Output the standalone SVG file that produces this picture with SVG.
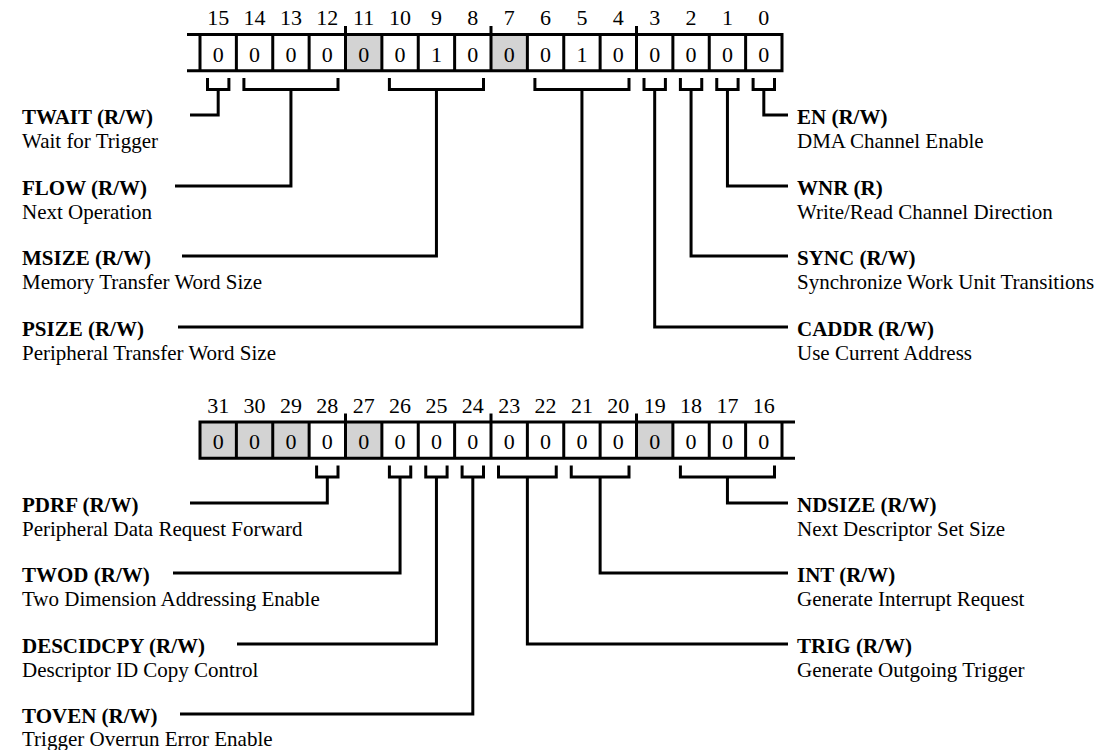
<svg xmlns="http://www.w3.org/2000/svg" width="1110" height="750" viewBox="0 0 1110 750">
<style>
text{font-family:"Liberation Serif","Times New Roman",serif;font-size:21px;fill:#000}
.b{font-weight:bold}
.n text{text-anchor:middle;font-size:22px}
.ln{fill:none;stroke:#000;stroke-width:3;stroke-linejoin:miter;stroke-linecap:butt}
.g{fill:#d3d3d3}
</style>
<rect width="1110" height="750" fill="#fff"/>

<g id="register-low">
<rect class="g" x="345.5" y="34.5" width="36.375" height="36.2"/>
<rect class="g" x="491" y="34.5" width="36.375" height="36.2"/>
<path class="ln" d="M187 34.5H783.5M187 70.7H783.5M200 33V72.2M236.375 33V72.2M272.75 33V72.2M309.125 33V72.2M345.5 26V72.2M381.875 33V72.2M418.25 33V72.2M454.625 33V72.2M491 26V72.2M527.375 33V72.2M563.75 33V72.2M600.125 33V72.2M636.5 26V72.2M672.875 33V72.2M709.25 33V72.2M745.625 33V72.2M782 33V72.2"/>
<g class="n">
<text x="218.19" y="25">15</text><text x="254.56" y="25">14</text><text x="290.94" y="25">13</text><text x="327.31" y="25">12</text>
<text x="363.69" y="25">11</text><text x="400.06" y="25">10</text><text x="436.44" y="25">9</text><text x="472.81" y="25">8</text>
<text x="509.19" y="25">7</text><text x="545.56" y="25">6</text><text x="581.94" y="25">5</text><text x="618.31" y="25">4</text>
<text x="654.69" y="25">3</text><text x="691.06" y="25">2</text><text x="727.44" y="25">1</text><text x="763.81" y="25">0</text>
<text x="218.19" y="61.5">0</text><text x="254.56" y="61.5">0</text><text x="290.94" y="61.5">0</text><text x="327.31" y="61.5">0</text>
<text x="363.69" y="61.5">0</text><text x="400.06" y="61.5">0</text><text x="436.44" y="61.5">1</text><text x="472.81" y="61.5">0</text>
<text x="509.19" y="61.5">0</text><text x="545.56" y="61.5">0</text><text x="581.94" y="61.5">1</text><text x="618.31" y="61.5">0</text>
<text x="654.69" y="61.5">0</text><text x="691.06" y="61.5">0</text><text x="727.44" y="61.5">0</text><text x="763.81" y="61.5">0</text>
</g>
</g>

<g id="register-high">
<rect class="g" x="200" y="422" width="109.125" height="36.2"/>
<rect class="g" x="345.5" y="422" width="36.375" height="36.2"/>
<rect class="g" x="636.5" y="422" width="36.375" height="36.2"/>
<path class="ln" d="M198.5 422H795M198.5 458.2H795M200 420.5V459.7M236.375 420.5V459.7M272.75 420.5V459.7M309.125 420.5V459.7M345.5 413.5V459.7M381.875 420.5V459.7M418.25 420.5V459.7M454.625 420.5V459.7M491 413.5V459.7M527.375 420.5V459.7M563.75 420.5V459.7M600.125 420.5V459.7M636.5 413.5V459.7M672.875 420.5V459.7M709.25 420.5V459.7M745.625 420.5V459.7M782 420.5V459.7"/>
<g class="n">
<text x="218.19" y="412.5">31</text><text x="254.56" y="412.5">30</text><text x="290.94" y="412.5">29</text><text x="327.31" y="412.5">28</text>
<text x="363.69" y="412.5">27</text><text x="400.06" y="412.5">26</text><text x="436.44" y="412.5">25</text><text x="472.81" y="412.5">24</text>
<text x="509.19" y="412.5">23</text><text x="545.56" y="412.5">22</text><text x="581.94" y="412.5">21</text><text x="618.31" y="412.5">20</text>
<text x="654.69" y="412.5">19</text><text x="691.06" y="412.5">18</text><text x="727.44" y="412.5">17</text><text x="763.81" y="412.5">16</text>
<text x="218.19" y="449">0</text><text x="254.56" y="449">0</text><text x="290.94" y="449">0</text><text x="327.31" y="449">0</text>
<text x="363.69" y="449">0</text><text x="400.06" y="449">0</text><text x="436.44" y="449">0</text><text x="472.81" y="449">0</text>
<text x="509.19" y="449">0</text><text x="545.56" y="449">0</text><text x="581.94" y="449">0</text><text x="618.31" y="449">0</text>
<text x="654.69" y="449">0</text><text x="691.06" y="449">0</text><text x="727.44" y="449">0</text><text x="763.81" y="449">0</text>
</g>
</g>

<g id="connectors" class="ln">
<path d="M207.5 78V89.5H228.9V78M218.19 89.5V115H190"/>
<path d="M243.9 78V89.5H338V78M290.94 89.5V186H175"/>
<path d="M389.4 78V89.5H483.5V78M436.44 89.5V256H182"/>
<path d="M534.9 78V89.5H629V78M581.94 89.5V327H178"/>
<path d="M644 78V89.5H665.4V78M654.69 89.5V327H788"/>
<path d="M680.4 78V89.5H701.75V78M691.06 89.5V256H788"/>
<path d="M716.75 78V89.5H738.1V78M727.44 89.5V186H788"/>
<path d="M753.1 78V89.5H774.5V78M763.81 89.5V115H788"/>
<path d="M316.6 465.5V477H338V465.5M327.31 477V503H190"/>
<path d="M389.4 465.5V477H410.75V465.5M400.06 477V573H173"/>
<path d="M425.75 465.5V477H447.1V465.5M436.44 477V644H237"/>
<path d="M462.1 465.5V477H483.5V465.5M472.81 477V714H180"/>
<path d="M498.5 465.5V477H556.25V465.5M527.375 477V644H788"/>
<path d="M571.25 465.5V477H629V465.5M600.125 477V573H788"/>
<path d="M680.4 465.5V477H774.5V465.5M727.44 477V503H788"/>
</g>

<g id="field-twait"><text class="b" x="22" y="124">TWAIT (R/W)</text><text x="22" y="148">Wait for Trigger</text></g>
<g id="field-flow"><text class="b" x="22" y="195">FLOW (R/W)</text><text x="22" y="219">Next Operation</text></g>
<g id="field-msize"><text class="b" x="22" y="265">MSIZE (R/W)</text><text x="22" y="289">Memory Transfer Word Size</text></g>
<g id="field-psize"><text class="b" x="22" y="336">PSIZE (R/W)</text><text x="22" y="360">Peripheral Transfer Word Size</text></g>
<g id="field-en"><text class="b" x="797" y="124">EN (R/W)</text><text x="797" y="148">DMA Channel Enable</text></g>
<g id="field-wnr"><text class="b" x="797" y="195">WNR (R)</text><text x="797" y="219">Write/Read Channel Direction</text></g>
<g id="field-sync"><text class="b" x="797" y="265">SYNC (R/W)</text><text x="797" y="289">Synchronize Work Unit Transitions</text></g>
<g id="field-caddr"><text class="b" x="797" y="336">CADDR (R/W)</text><text x="797" y="360">Use Current Address</text></g>
<g id="field-pdrf"><text class="b" x="22" y="512">PDRF (R/W)</text><text x="22" y="536">Peripheral Data Request Forward</text></g>
<g id="field-twod"><text class="b" x="22" y="582">TWOD (R/W)</text><text x="22" y="606">Two Dimension Addressing Enable</text></g>
<g id="field-descidcpy"><text class="b" x="22" y="653">DESCIDCPY (R/W)</text><text x="22" y="677">Descriptor ID Copy Control</text></g>
<g id="field-toven"><text class="b" x="22" y="723">TOVEN (R/W)</text><text x="22" y="746">Trigger Overrun Error Enable</text></g>
<g id="field-ndsize"><text class="b" x="797" y="512">NDSIZE (R/W)</text><text x="797" y="536">Next Descriptor Set Size</text></g>
<g id="field-int"><text class="b" x="797" y="582">INT (R/W)</text><text x="797" y="606">Generate Interrupt Request</text></g>
<g id="field-trig"><text class="b" x="797" y="653">TRIG (R/W)</text><text x="797" y="677">Generate Outgoing Trigger</text></g>
</svg>
